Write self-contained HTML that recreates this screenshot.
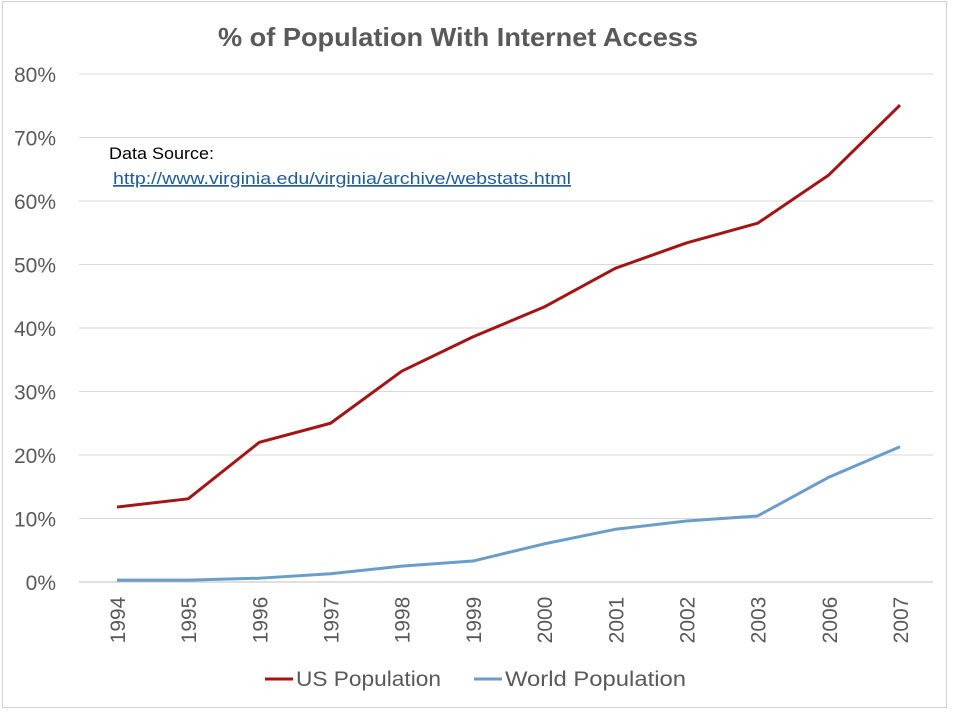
<!DOCTYPE html>
<html><head><meta charset="utf-8"><style>
body{margin:0;background:#fff;width:960px;height:722px;overflow:hidden;font-family:"Liberation Sans",sans-serif}
</style></head><body>
<svg width="960" height="722" id="chart">
<rect x="2.5" y="1.5" width="944" height="706" fill="#fff" stroke="#d0d0d0"/>
<text x="218" y="46" textLength="480" lengthAdjust="spacingAndGlyphs" font-size="26" font-weight="bold" fill="#595959">% of Population With Internet Access</text>
<g id="grid"></g>
<g id="ylabels"></g>
<g id="xlabels"></g>
<g id="series"></g>
<text x="109" y="159" textLength="105" lengthAdjust="spacingAndGlyphs" font-size="17" fill="#000">Data Source:</text>
<text x="113" y="184" textLength="458" lengthAdjust="spacingAndGlyphs" font-size="17" fill="#1f5c99" text-decoration="underline">http://www.virginia.edu/virginia/archive/webstats.html</text>
<g>
<line x1="265" y1="679" x2="293" y2="679" stroke="#a31515" stroke-width="3"/>
<text x="296" y="686" textLength="145" lengthAdjust="spacingAndGlyphs" font-size="21" fill="#595959">US Population</text>
<line x1="474" y1="679" x2="502" y2="679" stroke="#6b9dcb" stroke-width="3"/>
<text x="505" y="686" textLength="181" lengthAdjust="spacingAndGlyphs" font-size="21" fill="#595959">World Population</text>
</g>
</svg>
<script>
const categories=["1994","1995","1996","1997","1998","1999","2000","2001","2002","2003","2006","2007"];
const usValues=[11.8,13.1,22,25,33.2,38.6,43.3,49.4,53.4,56.5,64.1,75.1];
const worldValues=[0.3,0.3,0.6,1.3,2.5,3.3,6,8.3,9.6,10.4,16.5,21.3];
const yTicks=[0,10,20,30,40,50,60,70,80];
const NS="http://www.w3.org/2000/svg";
const left=81.4,right=935.6,y0=582,yTop=74;
const step=(right-left)/categories.length;
const x=i=>left+step*(i+0.5);
const y=v=>y0-(y0-yTop)*v/80;
function mk(tag,attrs,parent){const e=document.createElementNS(NS,tag);for(const k in attrs)e.setAttribute(k,attrs[k]);parent.appendChild(e);return e;}
const grid=document.getElementById('grid'),yl=document.getElementById('ylabels'),xl=document.getElementById('xlabels'),ser=document.getElementById('series');
yTicks.forEach(t=>{
 const l=mk('line',{x1:79,x2:933,y1:y(t),y2:y(t),stroke:t===0?'#bfbfbf':'#d9d9d9','stroke-width':1},grid);
 
 
 const tx=mk('text',{x:56,y:y(t)+8,'text-anchor':'end','font-size':21,fill:'#595959'},yl);
 tx.textContent=t+'%';
 
 
});
categories.forEach((c,i)=>{
 const tx=mk('text',{transform:`translate(${x(i)+8},620) rotate(-90)`,'text-anchor':'middle','font-size':21,fill:'#595959'},xl);
 tx.textContent=c;
 
 
});
function line(vals,color,name){
 const p=mk('polyline',{points:vals.map((v,i)=>x(i)+','+y(v)).join(' '),fill:'none',stroke:color,'stroke-width':3,'stroke-linejoin':'round'},ser);
 
 
}
line(usValues,'#a31515','us-population-line');
line(worldValues,'#6b9dcb','world-population-line');
</script>
</body></html>
